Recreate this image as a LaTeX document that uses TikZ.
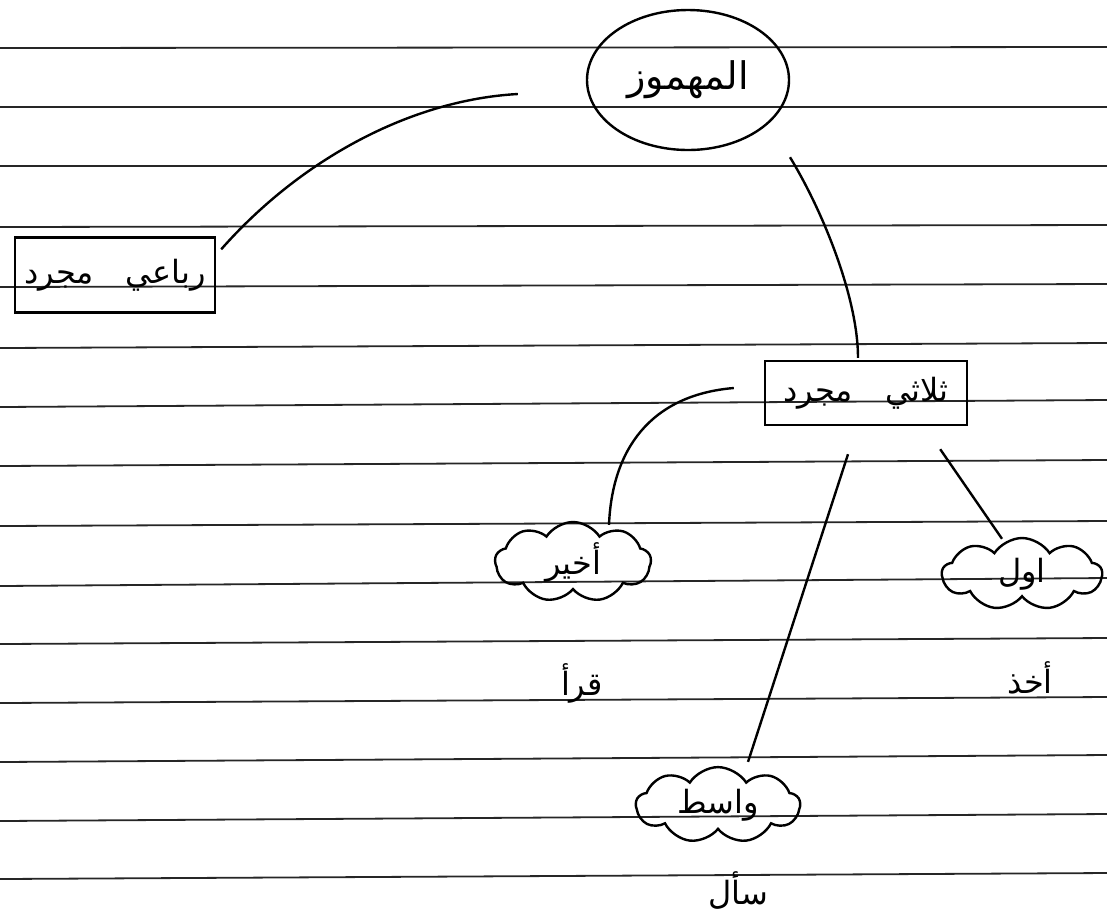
\documentclass[tikz,border=0pt]{standalone}
\usepackage{fontspec}
\usetikzlibrary{shapes.geometric,shapes.symbols}
\newfontfamily\arabicfont[Script=Arabic]{DejaVu Sans}
\TeXXeTstate=1
\newcommand{\artxt}[1]{{\arabicfont\beginR #1\endR}}
\begin{document}
\begin{tikzpicture}[x=0.5pt,y=-0.5pt,
  ruled/.style={line width=0.9pt, black!85},
  pen/.style={line width=1.2pt, black},
  lbl/.style={font=\fontsize{16}{19}\selectfont},
  oval/.style={ellipse, draw, pen, minimum width=101pt, minimum height=70pt, font=\fontsize{19}{22}\selectfont},
  boxnode/.style={rectangle, draw, pen, inner sep=0pt, lbl},
  cloudnode/.style={cloud, draw, pen, cloud puffs=9, cloud puff arc=115, aspect=2, inner sep=0pt, lbl},
  example/.style={lbl, inner sep=0pt}
]
\useasboundingbox (0,0) rectangle (1107,923);
\fill[white] (0,0) rectangle (1107,923);
% ruled paper
\foreach \a/\b in {48/47,107/107,166/166,227/225,287/284,348/343,407/400,466/460,526/521,586/578,644/638,703/697,762/755,821/814,879/873}
  \draw[ruled] (0,\a) -- (1107,\b);

% nodes
\node[oval] (m) at (688,80) {\artxt{المهموز}};
\node[boxnode, minimum width=100pt, minimum height=37.5pt] (r) at (115,275) {\artxt{رباعي\quad مجرد}};
\node[boxnode, minimum width=101pt, minimum height=32pt] (t) at (866,393) {\artxt{ثلاثي\quad مجرد}};
\node[cloudnode, minimum width=78pt, minimum height=40pt] (a) at (573,562) {\artxt{أخير}};
\node[cloudnode, minimum width=80pt, minimum height=36pt] (o) at (1022,574) {\artxt{اول}};
\node[cloudnode, minimum width=82pt, minimum height=30pt] (w) at (718,805) {\artxt{واسط}};

\node[example] (ea) at (582,683) {\artxt{قرأ}};
\node[example] (eo) at (1030,678) {\artxt{أخذ}};
\node[example] (ew) at (738,890) {\artxt{سأل}};

% connectors
\draw[pen] ([xshift=-34pt,yshift=-7pt]m.west) .. controls (410,100) and (300,160) .. ([xshift=2.5pt,yshift=-6.5pt]r.north east);
\draw[pen] ([xshift=51pt,yshift=-3pt]m.south) .. controls (825,215) and (858,300) .. ([xshift=-4pt,yshift=1pt]t.north);
\draw[pen] ([xshift=-15pt,yshift=2.5pt]t.west) .. controls (650,395) and (612,450) .. ([xshift=18pt,yshift=-2pt]a.north);
\draw[pen] ([xshift=-9pt,yshift=-14pt]t.south) -- ([xshift=15pt,yshift=2pt]w.north);
\draw[pen] ([xshift=-14pt,yshift=-11.5pt]t.south east) -- ([xshift=-10pt,yshift=-1pt]o.north);
\end{tikzpicture}
\end{document}
